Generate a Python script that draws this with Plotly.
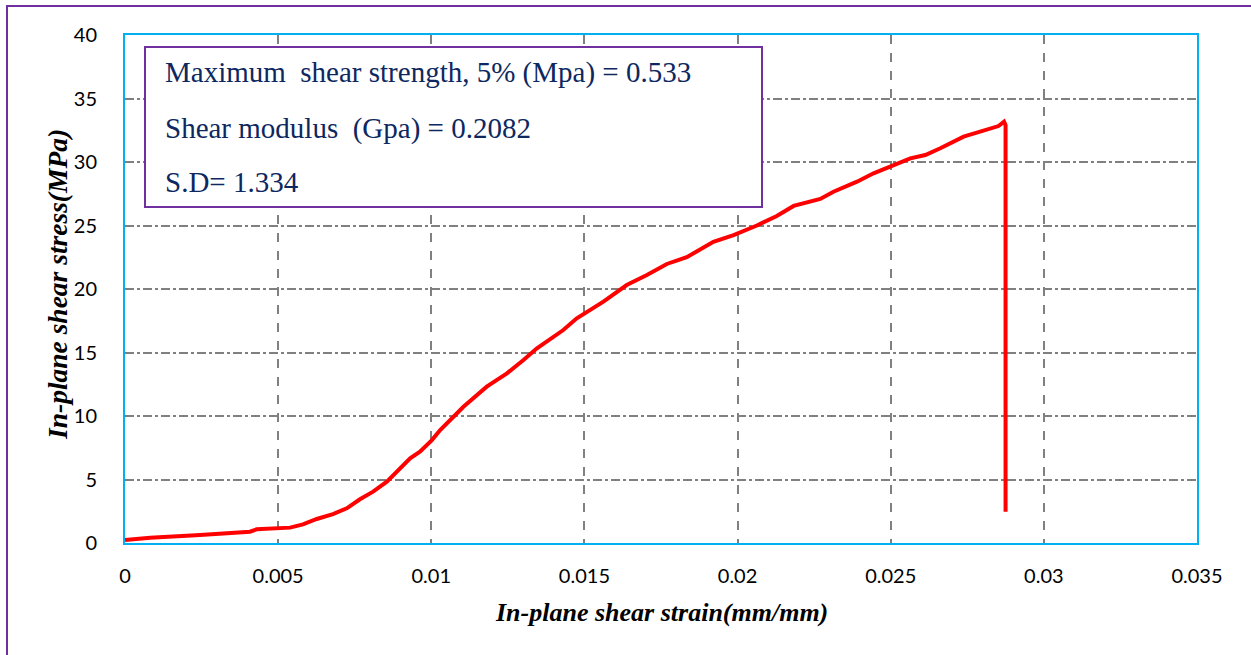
import plotly.graph_objects as go

# In-plane shear test: strain (mm/mm) vs. stress (MPa)
strain = [0, 0.00082, 0.00245, 0.00408, 0.0043, 0.00539, 0.00581, 0.00626, 0.00679,
          0.00724, 0.00767, 0.0081, 0.00855, 0.00887, 0.00931, 0.00963, 0.01002,
          0.01029, 0.01105, 0.01181, 0.01247, 0.01301, 0.01345, 0.01431, 0.01475,
          0.01562, 0.01638, 0.01704, 0.01769, 0.01834, 0.01878, 0.01921, 0.01987,
          0.02063, 0.02128, 0.02183, 0.0227, 0.02313, 0.0239, 0.02444, 0.02498,
          0.02564, 0.02613, 0.02662, 0.02738, 0.02803, 0.02852, 0.0287, 0.02875,
          0.02875]
stress = [0.24, 0.42, 0.63, 0.89, 1.08, 1.21, 1.47, 1.89, 2.28, 2.73, 3.44, 4.04,
          4.83, 5.61, 6.67, 7.19, 8.1, 8.9, 10.73, 12.31, 13.36, 14.41, 15.33, 16.77,
          17.69, 19.0, 20.31, 21.1, 21.97, 22.5, 23.1, 23.72, 24.25, 25.0, 25.75,
          26.54, 27.09, 27.66, 28.45, 29.11, 29.63, 30.29, 30.55, 31.08, 32.0, 32.47,
          32.83, 33.17, 32.9, 2.46]

x_ticks = [0, 0.005, 0.01, 0.015, 0.02, 0.025, 0.03, 0.035]
x_tick_labels = ["0", "0.005", "0.01", "0.015", "0.02", "0.025", "0.03", "0.035"]
y_ticks = [0, 5, 10, 15, 20, 25, 30, 35, 40]

x_title = "In-plane shear strain(mm/mm)"
y_title = "In-plane shear stress(MPa)"

info_lines = [
    "Maximum\u00a0 shear strength, 5% (Mpa) = 0.533",
    "Shear modulus\u00a0 (Gpa) = 0.2082",
    "S.D= 1.334",
]

W, H = 1251, 655
ML, MR, MT, MB = 125, 54, 35, 112
PW, PH = W - ML - MR, H - MT - MB


def px(x):
    return (x - ML) / PW


def py(y):
    return (H - MB - y) / PH


fig = go.Figure()
fig.add_trace(go.Scatter(
    x=strain, y=stress, mode="lines",
    line=dict(color="#FF0000", width=4),
    showlegend=False, hoverinfo="skip",
))

tick_font = dict(family="Lato, Carlito, sans-serif", size=20, color="#000000")
serif = "Liberation Serif, Times New Roman, serif"

fig.update_xaxes(
    range=[0, 0.035], tickvals=x_ticks, ticktext=x_tick_labels,
    showgrid=True, gridcolor="#808080", gridwidth=1.5, griddash="dash",
    showline=True, linecolor="#00B0F0", linewidth=2, mirror=True,
    ticks="", tickfont=tick_font, zeroline=False, ticklabelstandoff=14,
)
fig.update_yaxes(
    range=[0, 40], tickvals=y_ticks,
    showgrid=True, gridcolor="#808080", gridwidth=1.5, griddash="dashdot",
    showline=True, linecolor="#00B0F0", linewidth=2, mirror=True,
    ticks="", tickfont=tick_font, zeroline=False, ticklabelstandoff=22,
)

shapes = [
    # outer frame around the whole figure
    dict(type="rect", xref="paper", yref="paper",
         x0=px(7), x1=px(W + 20), y0=py(H + 20), y1=py(6),
         line=dict(color="#7030A0", width=2), fillcolor="rgba(0,0,0,0)", layer="above"),
    # info box
    dict(type="rect", xref="paper", yref="paper",
         x0=px(145), x1=px(762), y0=py(207), y1=py(47),
         line=dict(color="#7030A0", width=2), fillcolor="#FFFFFF", layer="above"),
]

annotations = []
for text, yc in zip(info_lines, [73, 128, 182]):
    annotations.append(dict(
        xref="paper", yref="paper", x=px(163), y=py(yc),
        xanchor="left", yanchor="middle", showarrow=False, text=text,
        font=dict(family=serif, size=29, color="#0D2860"),
    ))

# axis titles
annotations.append(dict(
    xref="paper", yref="paper", x=px(661), y=py(612),
    xanchor="center", yanchor="middle", showarrow=False,
    text=f"<b><i>{x_title}</i></b>", font=dict(family=serif, size=26, color="#000000"),
))
annotations.append(dict(
    xref="paper", yref="paper", x=px(57), y=py(285),
    xanchor="center", yanchor="middle", showarrow=False, textangle=-90,
    text=f"<b><i>{y_title}</i></b>", font=dict(family=serif, size=27.5, color="#000000"),
))

fig.update_layout(
    width=W, height=H,
    margin=dict(l=ML, r=MR, t=MT, b=MB),
    paper_bgcolor="#FFFFFF", plot_bgcolor="#FFFFFF",
    shapes=shapes, annotations=annotations,
)

fig.write_html("out.html")
